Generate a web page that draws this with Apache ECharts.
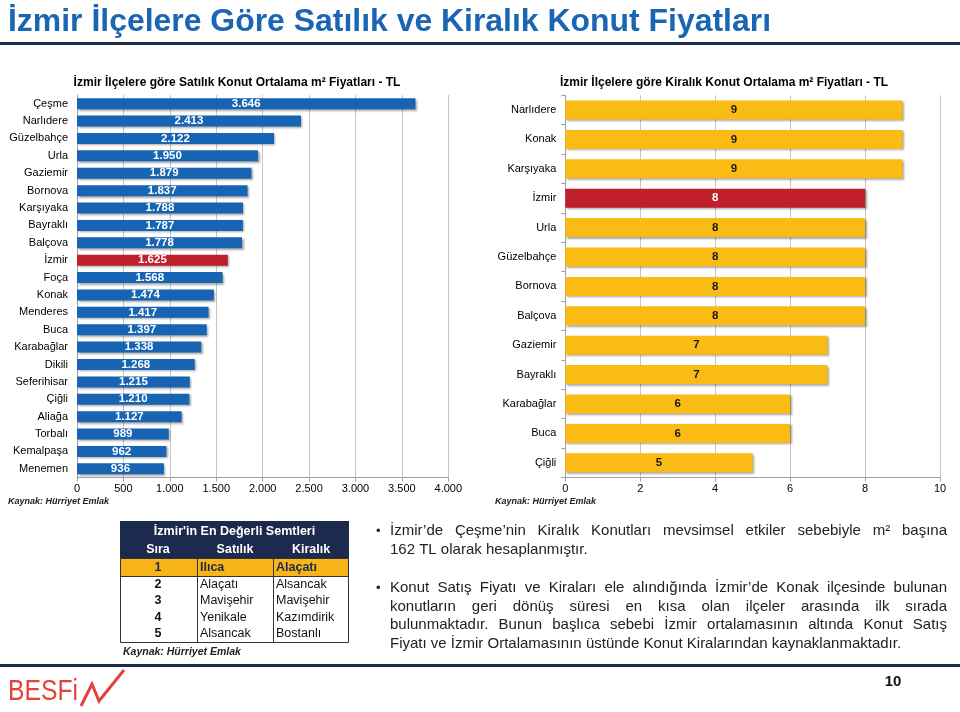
<!DOCTYPE html>
<html><head><meta charset="utf-8">
<script src="https://cdn.jsdelivr.net/npm/echarts/dist/echarts.min.js"></script>
<style>html,body{margin:0;padding:0;background:#fff}#c{width:960px;height:712px}</style>
</head><body><div id="c"></div>
<script>
// ---------- DATA ----------
const pageTitle = 'İzmir İlçelere Göre Satılık ve Kiralık Konut Fiyatları';
const satilikTitle = 'İzmir İlçelere göre Satılık Konut Ortalama m² Fiyatları - TL';
const kiralikTitle = 'İzmir İlçelere göre Kiralık Konut Ortalama m² Fiyatları - TL';
const sourceText = 'Kaynak: Hürriyet Emlak';
const highlightName = 'İzmir';

const satilikCats = ['Çeşme','Narlıdere','Güzelbahçe','Urla','Gaziemir','Bornova','Karşıyaka','Bayraklı','Balçova','İzmir','Foça','Konak','Menderes','Buca','Karabağlar','Dikili','Seferihisar','Çiğli','Aliağa','Torbalı','Kemalpaşa','Menemen'];
const satilikVals = [3646,2413,2122,1950,1879,1837,1788,1787,1778,1625,1568,1474,1417,1397,1338,1268,1215,1210,1127,989,962,936];

const kiralikCats = ['Narlıdere','Konak','Karşıyaka','İzmir','Urla','Güzelbahçe','Bornova','Balçova','Gaziemir','Bayraklı','Karabağlar','Buca','Çiğli'];
const kiralikVals = [9,9,9,8,8,8,8,8,7,7,6,6,5];

const tableTitle = "İzmir'in En Değerli Semtleri";
const tableHeaders = ['Sıra','Satılık','Kiralık'];
const tableRanks = ['1','2','3','4','5'];
const tableSatilik = ['Ilıca','Alaçatı','Mavişehir','Yenikale','Alsancak'];
const tableKiralik = ['Alaçatı','Alsancak','Mavişehir','Kazımdirik','Bostanlı'];

const bullet1 = ['İzmir’de Çeşme’nin Kiralık Konutları mevsimsel etkiler sebebiyle m² başına','162 TL olarak hesaplanmıştır.'];
const bullet2 = ['Konut Satış Fiyatı ve Kiraları ele alındığında İzmir’de Konak ilçesinde bulunan','konutların geri dönüş süresi en kısa olan ilçeler arasında ilk sırada','bulunmaktadır. Bunun başlıca sebebi İzmir ortalamasının altında Konut Satış','Fiyatı ve İzmir Ortalamasının üstünde Konut Kiralarından kaynaklanmaktadır.'];
const pageNumber = '10';
const logoText = 'BESFi';

// ---------- STYLE ----------
const FONT = "'Liberation Sans', Arial, Helvetica, sans-serif";
const BLUE = '#1764b3', RED = '#c0202b', YELLOW = '#fbbb15', NAVY = '#1b2a4d';

const fmt = v => String(v).replace(/\B(?=(\d{3})+(?!\d))/g, '.');

const chart = echarts.init(document.getElementById('c'), null, {renderer:'canvas'});

function txt(x, y, text, o) {
  o = o || {};
  const el = {type:'text', x:x, y:y, silent:true, z:10, style:{
    text:text, fill:o.fill||'#000', fontSize:o.size||12, fontFamily:o.family||FONT,
    fontWeight:o.weight||'normal', fontStyle:o.style||'normal',
    align:o.align||'left', verticalAlign:'middle', textAlign:o.align||'left', textVerticalAlign:'middle'}};
  if (o.scaleX) el.scaleX = o.scaleX;
  return el;
}
function line(x1,y1,x2,y2,color,w){
  return {type:'line', silent:true, z:9, shape:{x1:x1,y1:y1,x2:x2,y2:y2}, style:{stroke:color, lineWidth:w||1}};
}
function rect(x,y,w,h,fill,stroke){
  return {type:'rect', silent:true, z:8, shape:{x:x,y:y,width:w,height:h}, style:{fill:fill||'transparent', stroke:stroke||null, lineWidth:1}};
}

const mctx = document.createElement('canvas').getContext('2d');
function measure(text, size, weight) {
  mctx.font = (weight||'normal') + ' ' + size + 'px ' + FONT;
  return mctx.measureText(text).width;
}
function justified(text, x0, x1, y, size, color) {
  const out = [];
  const words = text.split(' ');
  const widths = words.map(w => measure(w, size));
  const total = widths.reduce((a,b)=>a+b,0);
  const gap = (x1 - x0 - total) / (words.length - 1);
  let x = x0;
  words.forEach((w,i) => { out.push(txt(x, y, w, {size:size, fill:color})); x += widths[i] + gap; });
  return out;
}

const graphics = [];
// page title + rules (narrow look via horizontal scaling)
const titleScale = 763 / measure(pageTitle, 32, 'bold');
graphics.push(txt(8, 22, pageTitle, {size:32, weight:'bold', fill:'#1a66b2', scaleX:titleScale}));
graphics.push(line(0, 43.5, 960, 43.5, NAVY, 3));
graphics.push(line(0, 665.5, 960, 665.5, NAVY, 3));
// chart titles
graphics.push(txt(237, 83, satilikTitle, {size:12, weight:'bold', align:'center'}));
graphics.push(txt(724, 83, kiralikTitle, {size:12, weight:'bold', align:'center'}));
graphics.push(txt(8, 502, sourceText, {size:9, weight:'bold', style:'italic', fill:'#222'}));
graphics.push(txt(495, 502, sourceText, {size:9, weight:'bold', style:'italic', fill:'#222'}));

// table
const tx0 = 120, tx1 = 349, c1 = 197, c2 = 273;
graphics.push(rect(tx0, 521, tx1 - tx0, 37, NAVY));
graphics.push(rect(tx0, 558, tx1 - tx0, 18, '#f7b51a'));
graphics.push(rect(tx0 + 0.5, 558.5, tx1 - tx0 - 1, 84, null, '#333'));
graphics.push(line(tx0, 576.5, tx1, 576.5, '#333', 1));
graphics.push(line(c1 + 0.5, 558, c1 + 0.5, 643, '#333', 1));
graphics.push(line(c2 + 0.5, 558, c2 + 0.5, 643, '#333', 1));
graphics.push(txt((tx0 + tx1) / 2, 531.5, tableTitle, {size:12.5, weight:'bold', fill:'#fff', align:'center'}));
graphics.push(txt(158, 550, tableHeaders[0], {size:12.5, weight:'bold', fill:'#fff', align:'center'}));
graphics.push(txt(235, 550, tableHeaders[1], {size:12.5, weight:'bold', fill:'#fff', align:'center'}));
graphics.push(txt(311, 550, tableHeaders[2], {size:12.5, weight:'bold', fill:'#fff', align:'center'}));
tableRanks.forEach((r, i) => {
  const y = i === 0 ? 567.5 : 576 + 8.5 + (i - 1) * 16.5;
  const first = i === 0;
  const col = first ? NAVY : '#111';
  graphics.push(txt(158, y, r, {size:12.5, weight:'bold', fill:col, align:'center'}));
  graphics.push(txt(200, y, tableSatilik[i], {size:12.5, weight:first?'bold':'normal', fill:col}));
  graphics.push(txt(276, y, tableKiralik[i], {size:12.5, weight:first?'bold':'normal', fill:col}));
});
graphics.push(txt(123, 652, sourceText, {size:10.5, weight:'bold', style:'italic', fill:'#222'}));

// bullets
const BX0 = 390, BX1 = 947, BSIZE = 15, BCOL = '#222';
graphics.push(txt(376, 531, '•', {size:13, fill:BCOL}));
graphics.push(...justified(bullet1[0], BX0, BX1, 531, BSIZE, BCOL));
graphics.push(txt(BX0, 549.5, bullet1[1], {size:BSIZE, fill:BCOL}));
graphics.push(txt(376, 588, '•', {size:13, fill:BCOL}));
const b2y = [588, 606.5, 625, 643.5];
bullet2.forEach((l, i) => {
  if (i < bullet2.length - 1) graphics.push(...justified(l, BX0, BX1, b2y[i], BSIZE, BCOL));
  else graphics.push(txt(BX0, b2y[i], l, {size:BSIZE, fill:BCOL}));
});

// footer
graphics.push(txt(893, 682, pageNumber, {size:15, weight:'bold', align:'center', fill:'#111'}));
const logoScale = 70 / measure(logoText, 30);
graphics.push(txt(8, 692, logoText, {size:30, fill:'#e2423a', scaleX:logoScale}));
graphics.push({type:'polyline', silent:true, z:10, shape:{points:[[81,706],[92,684],[99,701],[124,670]]}, style:{stroke:'#e2423a', lineWidth:3, fill:null}});

const axisGray = '#a0a0a0';
chart.setOption({
  animation:false,
  backgroundColor:'#fff',
  textStyle:{fontFamily:FONT},
  grid:[
    {left:77, width:371.3, top:95, height:382.5},
    {left:565.3, width:374.7, top:95.3, height:382.2}
  ],
  xAxis:[
    {gridIndex:0, type:'value', min:0, max:4000, interval:500,
     axisLine:{show:true, lineStyle:{color:axisGray}}, axisTick:{show:true, length:4, lineStyle:{color:axisGray}},
     axisLabel:{formatter:fmt, fontSize:11, color:'#000', margin:6},
     splitLine:{show:true, lineStyle:{color:'#c6c6c6'}}},
    {gridIndex:1, type:'value', min:0, max:10, interval:2,
     axisLine:{show:true, lineStyle:{color:axisGray}}, axisTick:{show:true, length:4, lineStyle:{color:axisGray}},
     axisLabel:{fontSize:11, color:'#000', margin:6},
     splitLine:{show:true, lineStyle:{color:'#c6c6c6'}}}
  ],
  yAxis:[
    {gridIndex:0, type:'category', data:satilikCats, inverse:true,
     axisLine:{show:true, lineStyle:{color:axisGray}}, axisTick:{show:false},
     axisLabel:{fontSize:11, color:'#000', margin:9}},
    {gridIndex:1, type:'category', data:kiralikCats, inverse:true,
     axisLine:{show:true, lineStyle:{color:axisGray}}, axisTick:{show:true, length:4, lineStyle:{color:axisGray}},
     axisLabel:{fontSize:11, color:'#000', margin:9}}
  ],
  series:[
    {type:'bar', xAxisIndex:0, yAxisIndex:0, barWidth:11,
     data:satilikVals.map((v,i)=>({value:v, itemStyle:{color: satilikCats[i]===highlightName ? RED : BLUE}})),
     itemStyle:{shadowColor:'rgba(0,0,0,0.35)', shadowBlur:2, shadowOffsetX:1.5, shadowOffsetY:1.5},
     label:{show:true, position:'inside', color:'#fff', fontWeight:'bold', fontSize:11.5, formatter:p=>fmt(p.value)}},
    {type:'bar', xAxisIndex:1, yAxisIndex:1, barWidth:19,
     data:kiralikVals.map((v,i)=>{
       const hl = kiralikCats[i]===highlightName;
       return {value:v, itemStyle:{color: hl ? RED : YELLOW}, label:{color: hl ? '#fff' : '#1a1a1a'}};
     }),
     itemStyle:{shadowColor:'rgba(0,0,0,0.35)', shadowBlur:2, shadowOffsetX:1.5, shadowOffsetY:1.5},
     label:{show:true, position:'inside', fontWeight:'bold', fontSize:11.5, formatter:p=>fmt(p.value)}}
  ],
  graphic:{elements:graphics}
});
</script></body></html>
